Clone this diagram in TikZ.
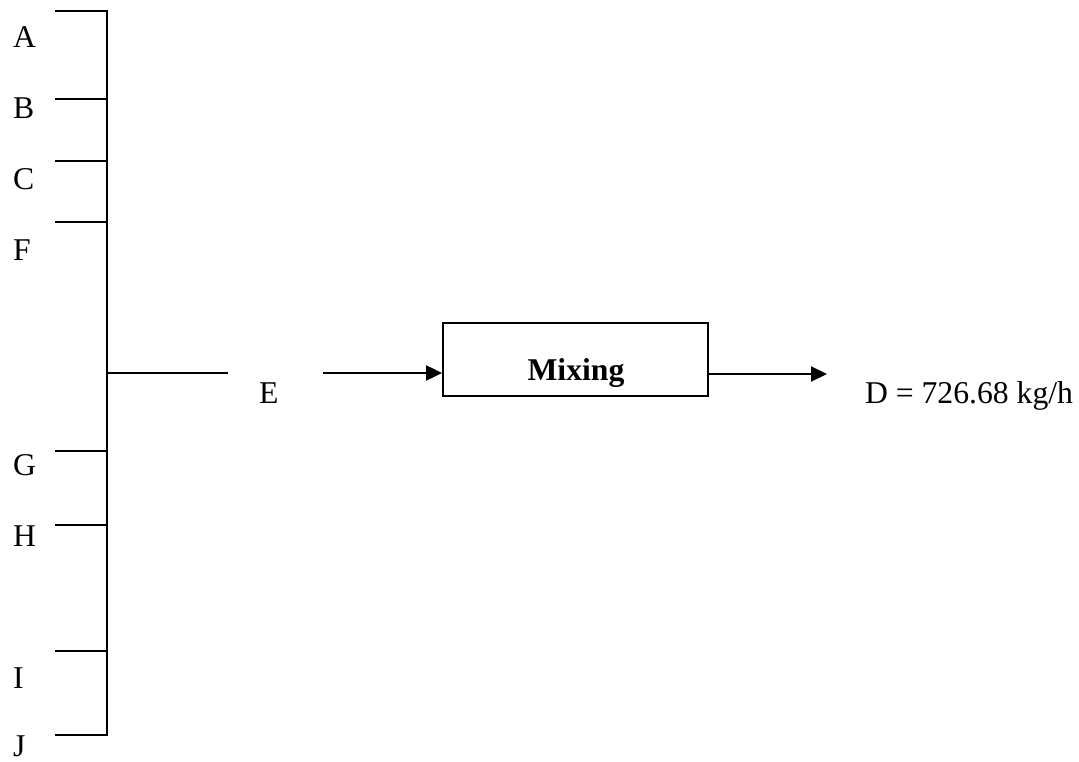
\documentclass[tikz,border=0pt]{standalone}
\usepackage{fontspec}
\setmainfont{Liberation Serif}
\usetikzlibrary{arrows.meta}
\begin{document}
\begin{tikzpicture}[x=1pt,y=-1pt,
  line width=2pt,
  lbl/.style={inner sep=0pt,anchor=base west,font=\fontsize{31.7}{38}\selectfont},
  flow/.style={-{Triangle[length=16pt,width=15pt]}},
  unit/.style={draw,line width=1.8pt,minimum width=265pt,minimum height=73pt,inner sep=0pt}]
\useasboundingbox (0,0) rectangle (1079,762);

% header line collecting the feed streams
\foreach \n/\y in {a/11,b/99,c/161,f/222,g/451,h/525,i/651,j/735}{
  \coordinate (s\n) at (55,\y);
  \coordinate (t\n) at (107,\y);
}
\draw (sa) -- (ta) -- (tj) -- (sj);
\foreach \n in {b,c,f,g,h,i}{ \draw (s\n) -- (t\n); }

% stream labels
\node[lbl] (la) at (12,48) {A};
\node[lbl] (lb) at (12,119) {B};
\node[lbl] (lc) at (12,190) {C};
\node[lbl] (lf) at (12,260) {F};
\node[lbl] (lg) at (12,475) {G};
\node[lbl] (lh) at (12,546) {H};
\node[lbl] (li) at (12,688) {I};
\node[lbl] (lj) at (12,756) {J};

% combined stream E
\coordinate (te) at (107,373);
\coordinate (ee) at (228,373);
\draw (te) -- (ee);
\node[lbl] (le) at (258,403) {E};

% mixing unit
\node[unit] (mix) at (575.5,359.5) {};
\node[inner sep=0pt,anchor=base,font=\fontsize{31.7}{38}\selectfont\bfseries] (mixl) at (576,380) {Mixing};

\coordinate (ein) at (323,373);
\draw[flow] (ein) -- (mix.west |- ein);
\coordinate (dout) at (827,374);
\draw[flow] (mix.east |- dout) -- (dout);
\node[lbl] (ld) at (864,403) {D = 726.68 kg/h};
\end{tikzpicture}
\end{document}
